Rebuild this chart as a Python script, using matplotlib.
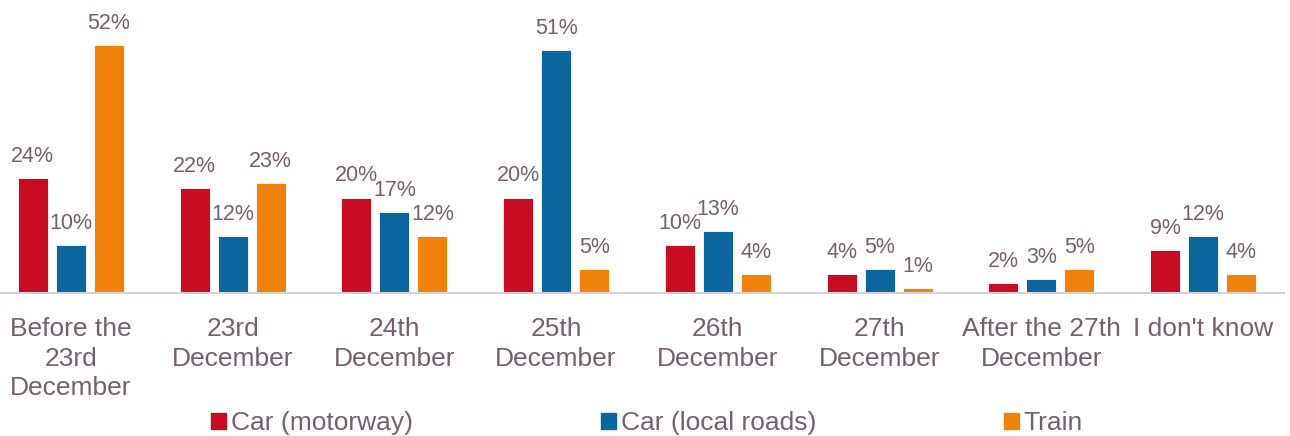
import numpy as np
import matplotlib.pyplot as plt
from matplotlib.patches import Patch

plt.rcParams['font.family'] = ['Liberation Sans', 'DejaVu Sans']

categories = ['Before the\n23rd\nDecember', '23rd\nDecember', '24th\nDecember',
              '25th\nDecember', '26th\nDecember', '27th\nDecember',
              'After the 27th\nDecember', "I don't know"]
motorway = [24, 22, 20, 20, 10, 4, 2, 9]
local_roads = [10, 12, 17, 51, 13, 5, 3, 12]
train = [52, 23, 12, 5, 4, 1, 5, 4]

series = ['Car (motorway)', 'Car (local roads)', 'Train']
colors = ['#c80c22', '#0b669e', '#ee820b']
txt = '#76606c'

fig = plt.figure(figsize=(12.9, 4.36), dpi=100)
ax = fig.add_axes([-10 / 1290, 143 / 436, 1294 / 1290, 293 / 436])

x = np.arange(len(categories))
w = 0.186
step = 0.235
for i, (vals, c) in enumerate(zip([motorway, local_roads, train], colors)):
    bars = ax.bar(x + (i - 1) * step, vals, width=w, color=c, edgecolor='white', linewidth=0.6)
    ax.bar_label(bars, labels=['%d%%' % v for v in vals], padding=8,
                 fontsize=15.5, color=txt)

ax.set_xlim(-0.5, len(categories) - 0.5)
ax.set_ylim(0, 61.4)
ax.set_yticks([])
ax.set_xticks(x)
ax.set_xticklabels(categories, fontsize=19, color=txt, linespacing=1.31)
ax.tick_params(axis='x', length=0, pad=17)
for s in ['top', 'right', 'left']:
    ax.spines[s].set_visible(False)
ax.spines['bottom'].set_color('#d9d0d5')
ax.spines['bottom'].set_linewidth(1.5)

# legend entries spread like the original
xs = [211 / 1290, 601 / 1290, 1004 / 1290]
for name, c, px in zip(series, colors, xs):
    fig.legend(handles=[Patch(color=c)], labels=[name], loc='center left',
               bbox_to_anchor=(px, 1 - 423 / 436), frameon=False, fontsize=19,
               labelcolor=txt, handlelength=0.55, handleheight=0.55,
               handletextpad=0.2, borderaxespad=0, borderpad=0)

fig.savefig('out.png', dpi=100)
